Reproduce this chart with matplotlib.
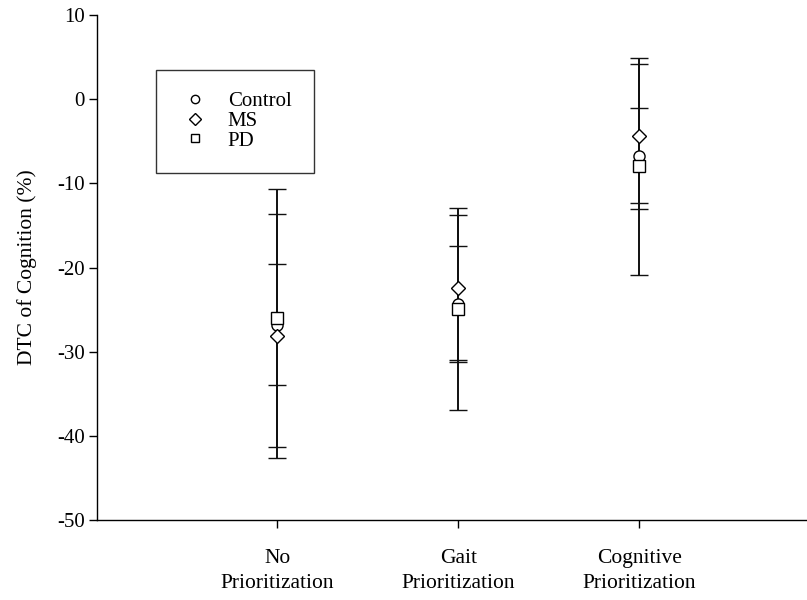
import matplotlib
matplotlib.use("Agg")
import matplotlib.pyplot as plt
from matplotlib.lines import Line2D
import numpy as np

plt.rcParams['font.family'] = ['Liberation Serif', 'DejaVu Serif']
plt.rcParams['axes.unicode_minus'] = False

categories = ['No\nPrioritization', 'Gait\nPrioritization', 'Cognitive\nPrioritization']
groups = ['Control', 'MS', 'PD']
markers = ['o', 'D', 's']

# mean and SD per condition
control_mean = [-26.8, -24.3, -6.7]
control_sd = [7.2, 6.9, 5.6]
ms_mean = [-28.1, -22.4, -4.4]
ms_sd = [14.5, 8.6, 8.6]
pd_mean = [-26.0, -24.9, -7.95]
pd_sd = [15.3, 12.0, 12.9]

means = [control_mean, ms_mean, pd_mean]
sds = [control_sd, ms_sd, pd_sd]
msizes = [8, 7.5, 8]
leg_sizes = [6, 6.5, 6]

fig = plt.figure(figsize=(8.07, 6.0), dpi=100)
ax = fig.add_axes([0.1202, 0.1333, 0.8786, 0.8417])

x = np.arange(1, len(categories) + 1)
for g, m, mean, sd, ms in zip(groups, markers, means, sds, msizes):
    ax.errorbar(x, mean, yerr=sd, fmt=m, mfc='white', mec='black', mew=1.0,
                ms=ms, ecolor='#111111', elinewidth=1.4, capsize=6.5,
                capthick=1.2, zorder=3)

ax.set_xlim(0.005, 3.92)
ax.set_ylim(-50, 10)
ax.set_yticks(np.arange(-50, 11, 10))
ax.set_xticks(x)
ax.set_xticklabels(categories, fontsize=15.5, linespacing=1.4)
ax.tick_params(axis='y', labelsize=15, direction='out', length=6, width=1, pad=3)
ax.tick_params(axis='x', direction='out', length=6, width=1, pad=15)
ax.spines['top'].set_visible(False)
ax.spines['right'].set_visible(False)
for s in ['left', 'bottom']:
    ax.spines[s].set_linewidth(1.0)
ax.set_ylabel('DTC of Cognition (%)', fontsize=15.5, labelpad=14)

handles = [Line2D([], [], linestyle='none', marker=m, mfc='white', mec='black',
                  mew=1.0, ms=ms) for m, ms in zip(markers, leg_sizes)]
leg = ax.legend(handles, groups, loc='upper left',
                bbox_to_anchor=(156 / 807, 1 - 70 / 600),
                bbox_transform=fig.transFigure, fontsize=15, frameon=True,
                fancybox=False, edgecolor='black', borderpad=1.05,
                handlelength=1.6, handletextpad=0.8, labelspacing=0.0,
                borderaxespad=0)
leg.get_frame().set_linewidth(1.0)

fig.savefig('out.png', dpi=100)
